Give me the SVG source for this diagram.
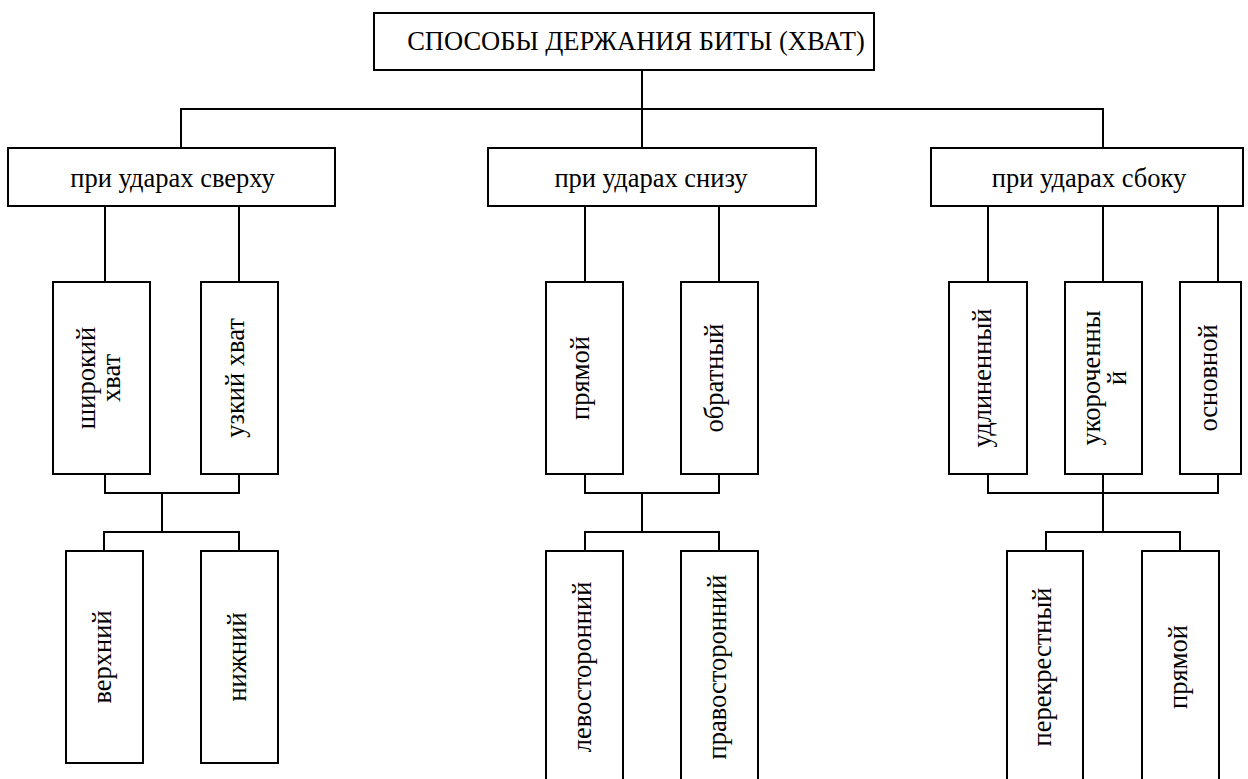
<svg xmlns="http://www.w3.org/2000/svg" width="1248" height="779" viewBox="0 0 1248 779">
  <style>
    .box { fill: #fff; stroke: #000; stroke-width: 2; }
    .lbl { font-family: 'Liberation Serif', 'Times New Roman', serif; font-size: 26.5px; fill: #000; }
    .h { text-anchor: middle; }
    .v { text-anchor: middle; dominant-baseline: central; }
    #links path { fill: none; stroke: #000; stroke-width: 2; }
  </style>
  <rect width="1248" height="779" fill="#fff"/>

  <!-- connectors -->
  <g id="links">
    <!-- root to the three groups -->
    <path d="M642 70 V148 M181 148 V109 H1103 V148"/>
    <!-- overhead strokes -->
    <path d="M105 206 V282 M239 206 V282"/>
    <path d="M105 474 V493 H239 V474 M162 493 V532 M104 551 V532 H239 V551"/>
    <!-- underhand strokes -->
    <path d="M585 206 V282 M719 206 V282"/>
    <path d="M585 474 V493 H719 V474 M642 493 V532 M585 551 V532 H719 V551"/>
    <!-- side strokes -->
    <path d="M988 206 V282 M1103 206 V282 M1218 206 V282"/>
    <path d="M988 474 V493 H1218 V474 M1103 474 V532 M1046 551 V532 H1180 V551"/>
  </g>

  <!-- root -->
  <g id="root">
    <rect class="box" x="374" y="13" width="500" height="57"/>
    <text class="lbl h" x="636" y="50">СПОСОБЫ ДЕРЖАНИЯ БИТЫ (ХВАТ)</text>
  </g>

  <!-- level 1 -->
  <g id="top-strikes">
    <rect class="box" x="8" y="148" width="327" height="58"/>
    <text class="lbl h" x="172.5" y="187">при ударах сверху</text>
  </g>
  <g id="low-strikes">
    <rect class="box" x="488" y="148" width="328" height="58"/>
    <text class="lbl h" x="651" y="187">при ударах снизу</text>
  </g>
  <g id="side-strikes">
    <rect class="box" x="931" y="148" width="312" height="58"/>
    <text class="lbl h" x="1089" y="187">при ударах сбоку</text>
  </g>

  <!-- level 2: grips -->
  <g id="wide-grip">
    <rect class="box" x="53" y="282" width="97" height="192"/>
    <g class="lbl v">
      <text transform="translate(86 378) rotate(-90)">широкий</text>
      <text transform="translate(111 378) rotate(-90)">хват</text>
    </g>
  </g>
  <g id="narrow-grip">
    <rect class="box" x="201" y="282" width="77" height="192"/>
    <text class="lbl v" transform="translate(235 378) rotate(-90)">узкий хват</text>
  </g>
  <g id="direct-low">
    <rect class="box" x="546" y="282" width="77" height="192"/>
    <text class="lbl v" transform="translate(580 378) rotate(-90)">прямой</text>
  </g>
  <g id="reverse-low">
    <rect class="box" x="681" y="282" width="77" height="192"/>
    <text class="lbl v" transform="translate(714 378) rotate(-90)">обратный</text>
  </g>
  <g id="extended">
    <rect class="box" x="949" y="282" width="78" height="192"/>
    <text class="lbl v" transform="translate(982 378) rotate(-90)">удлиненный</text>
  </g>
  <g id="shortened">
    <rect class="box" x="1065" y="282" width="77" height="192"/>
    <g class="lbl v">
      <text transform="translate(1091 378) rotate(-90)">укороченны</text>
      <text transform="translate(1117 378) rotate(-90)">й</text>
    </g>
  </g>
  <g id="basic">
    <rect class="box" x="1180" y="282" width="61" height="192"/>
    <text class="lbl v" transform="translate(1207.5 378) rotate(-90)">основной</text>
  </g>

  <!-- level 3: hand positions -->
  <g id="upper">
    <rect class="box" x="66" y="551" width="77" height="212"/>
    <text class="lbl v" transform="translate(101.5 657) rotate(-90)">верхний</text>
  </g>
  <g id="lower">
    <rect class="box" x="201" y="551" width="77" height="212"/>
    <text class="lbl v" transform="translate(236.5 657) rotate(-90)">нижний</text>
  </g>
  <g id="left-side">
    <rect class="box" x="546" y="551" width="77" height="240"/>
    <text class="lbl v" transform="translate(581.5 667) rotate(-90)">левосторонний</text>
  </g>
  <g id="right-side">
    <rect class="box" x="681" y="551" width="77" height="240"/>
    <text class="lbl v" transform="translate(716.5 667) rotate(-90)">правосторонний</text>
  </g>
  <g id="crossed">
    <rect class="box" x="1007" y="551" width="76" height="240"/>
    <text class="lbl v" transform="translate(1042 667) rotate(-90)">перекрестный</text>
  </g>
  <g id="straight">
    <rect class="box" x="1142" y="551" width="77" height="240"/>
    <text class="lbl v" transform="translate(1177.5 667) rotate(-90)">прямой</text>
  </g>
</svg>
